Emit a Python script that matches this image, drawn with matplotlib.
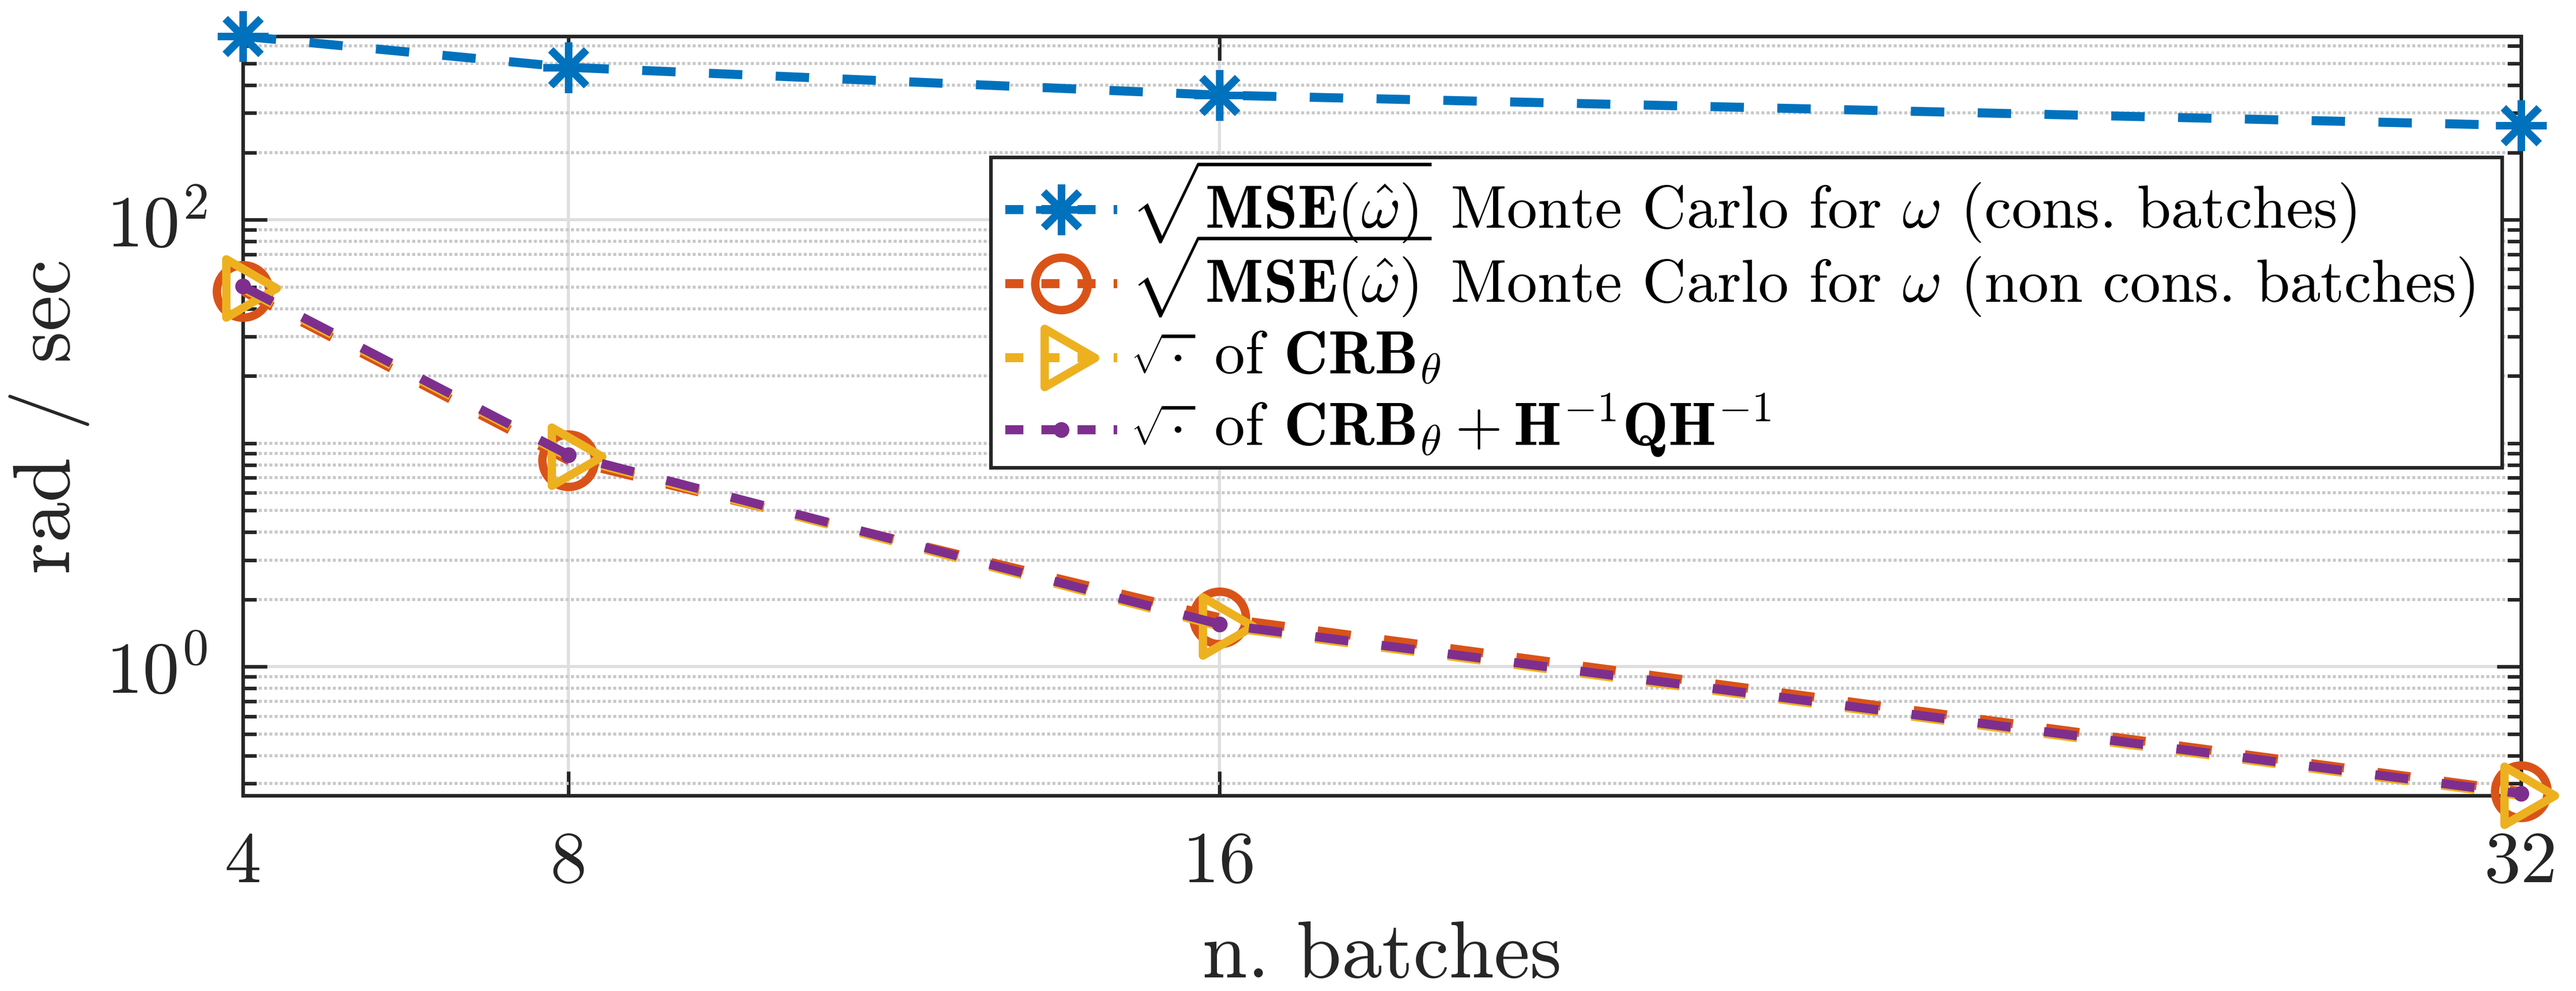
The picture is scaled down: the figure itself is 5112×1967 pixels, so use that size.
import numpy as np
import matplotlib
matplotlib.use('Agg')
import matplotlib.pyplot as plt
from matplotlib.path import Path
from matplotlib.lines import Line2D
from matplotlib.patches import Rectangle
from matplotlib.markers import MarkerStyle
from matplotlib.ticker import FixedLocator, FixedFormatter, NullLocator, NullFormatter

# ---------------- data ----------------
n_batches = [4, 8, 16, 32]
mse_cons = [662, 481, 361, 264]
mse_noncons = [47.9, 8.38, 1.656, 0.276]
crb = [49.3, 8.71, 1.52, 0.265]
crb_hqh = [50.3, 8.87, 1.55, 0.270]

x_ticks = [4, 8, 16, 32]
x_tick_labels = ['4', '8', '16', '32']
y_ticks = [1, 100]
y_tick_labels = [r'$10^{0}$', r'$10^{2}$']

series_labels = [
    r'$\sqrt{\mathbf{MSE}(\hat{\omega})}$ Monte Carlo for $\omega$ (cons. batches)',
    r'$\sqrt{\mathbf{MSE}(\hat{\omega})}$ Monte Carlo for $\omega$ (non cons. batches)',
    r'$\sqrt{\cdot}$ of $\mathbf{CRB}_\theta$',
    r'$\sqrt{\cdot}$ of $\mathbf{CRB}_\theta + \mathbf{H}^{-1}\mathbf{Q}\mathbf{H}^{-1}$',
]
x_label = 'n. batches'
y_label = 'rad / sec'

# ---------------- style ----------------
plt.rcParams['mathtext.fontset'] = 'cm'
plt.rcParams['font.family'] = ['cmr10', 'DejaVu Sans']
plt.rcParams['axes.unicode_minus'] = False

BLUE = '#0072BD'
ORANGE = '#D95319'
YELLOW = '#EDB120'
PURPLE = '#7E2F8E'
AXC = '#262626'

W, H, DPI = 5112, 1968, 300
fig = plt.figure(figsize=(W / DPI, H / DPI), dpi=DPI)
L, R, T, B = 482, 5003, 73, 1580
ax = fig.add_axes([L / W, 1 - B / H, (R - L) / W, (B - T) / H])

LW = 4.3
dash = (0, (3.7, 3.7))

tri = MarkerStyle(Path([(1, 0), (-0.5, 0.866), (-0.5, -0.866), (1, 0)], closed=True),
                  joinstyle='miter')
aster = MarkerStyle((8, 2, 0))

styles = [
    dict(color=BLUE, marker=aster, ms=24, mew=3.6),
    dict(color=ORANGE, marker='o', ms=25, mew=4.0, mfc='none'),
    dict(color=YELLOW, marker=tri, ms=32, mew=4.0, mfc='none'),
    dict(color=PURPLE, marker='o', ms=7.5, mew=0),
]
series = [mse_cons, mse_noncons, crb, crb_hqh]

for vals, st, lab in zip(series, styles, series_labels):
    ax.plot(n_batches, vals, lw=LW, ls=dash, label=lab, zorder=3, clip_on=False, **st)

ax.set_yscale('log')
allv = mse_cons + mse_noncons + crb + crb_hqh
ax.set_ylim(min(allv), max(allv))
ax.set_xlim(n_batches[0], n_batches[-1])

# ticks
ax.xaxis.set_major_locator(FixedLocator(x_ticks))
ax.xaxis.set_major_formatter(FixedFormatter(x_tick_labels))
ax.xaxis.set_minor_locator(NullLocator())
ax.yaxis.set_major_locator(FixedLocator(y_ticks))
ax.yaxis.set_major_formatter(FixedFormatter(y_tick_labels))
minor = [k * 10.0 ** d for d in range(-1, 3) for k in range(1, 10)]
minor = [m for m in minor if m not in (1.0, 100.0)]
ax.yaxis.set_minor_locator(FixedLocator(minor))
ax.yaxis.set_minor_formatter(NullFormatter())

ax.tick_params(which='both', direction='in', top=True, right=True,
               color=AXC, width=1.7, labelcolor=AXC, labelsize=35)
ax.tick_params(which='major', length=11.5, pad=17)
ax.tick_params(which='minor', length=6.5)

for s in ax.spines.values():
    s.set_linewidth(1.7)
    s.set_color(AXC)

ax.set_axisbelow(True)
ax.grid(True, which='major', axis='both', color='#dedede', lw=1.44, ls='-')
ax.grid(True, which='minor', axis='y', color='#c9c9c9', lw=1.44, ls=(0, (1, 0.75)))

ax.set_xlabel(x_label, fontsize=38.5, color=AXC, va='baseline')
ax.xaxis.set_label_coords(0.5, (B - 1940) / (B - T))
ax.set_ylabel(y_label, fontsize=38.5, color=AXC, va='baseline')
ax.yaxis.set_label_coords((138 - L) / (R - L), 0.5)


# ---------------- legend (drawn as a boxed key) ----------------
def ax_xy(px, py):
    return ((px - L) / (R - L), (B - py) / (B - T))


LEG_FS = 29.1
box_l, box_r, box_t, box_b = 1966, 4965, 313, 929
rows_y = [417, 564, 711, 854]
base_off = [36, 36, 30, 30]
h0, h1, tx0 = 1995, 2217, 2243

bx, by = ax_xy(box_l, box_b)
ax.add_patch(Rectangle((bx, by), (box_r - box_l) / (R - L), (box_b - box_t) / (B - T),
                       transform=ax.transAxes, facecolor='white', edgecolor=AXC,
                       lw=1.7, zorder=10, clip_on=False))
for lab, st, ry, bo in zip(series_labels, styles, rows_y, base_off):
    xa, ya = ax_xy(h0, ry)
    xb, _ = ax_xy(h1, ry)
    ax.add_line(Line2D([xa, (xa + xb) / 2, xb], [ya, ya, ya], transform=ax.transAxes,
                       lw=LW, ls=(0, (2.0, 2.0)), markevery=[1], zorder=11,
                       clip_on=False, **st))
    tx, ty = ax_xy(tx0, ry + bo)
    ax.text(tx, ty, lab, transform=ax.transAxes, ha='left', va='baseline',
            fontsize=LEG_FS, color='black', zorder=12)

fig.savefig('out.png', dpi=DPI)
